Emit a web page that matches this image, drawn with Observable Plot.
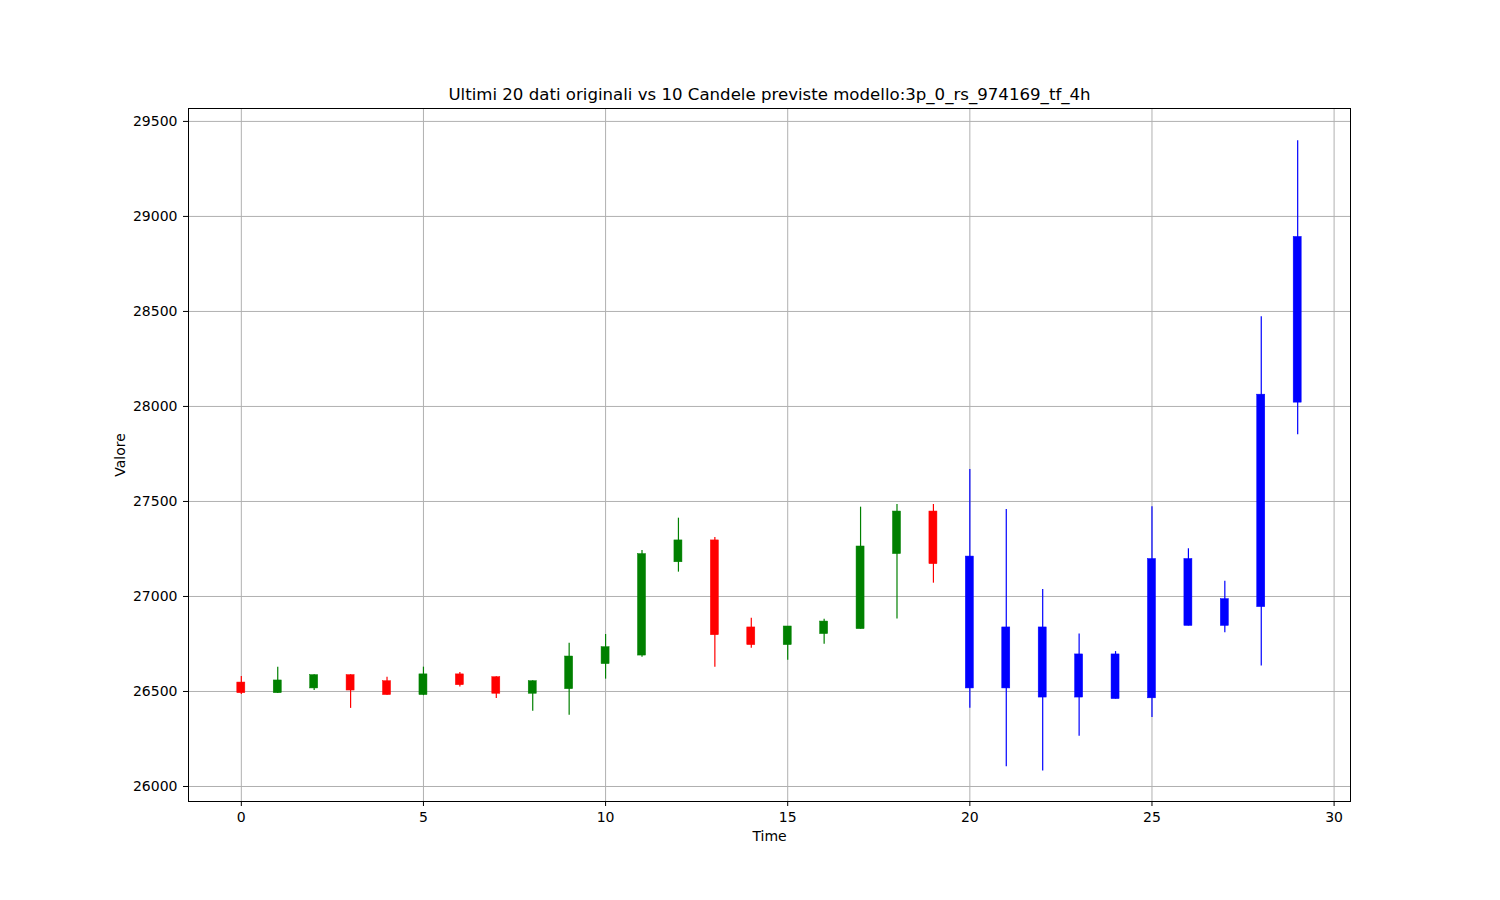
<!DOCTYPE html>
<html>
<head>
<meta charset="utf-8">
<script src="https://cdn.jsdelivr.net/npm/d3@7"></script>
<script src="https://cdn.jsdelivr.net/npm/@observablehq/plot@0.6"></script>
<style>
  html, body { margin: 0; padding: 0; background: #fff; }
  #chart { width: 1500px; height: 900px; }
  svg { font-family: "DejaVu Sans", sans-serif; }
</style>
</head>
<body>
<div id="chart"></div>
<script>
const title = "Ultimi 20 dati originali vs 10 Candele previste modello:3p_0_rs_974169_tf_4h";
const xLabel = "Time";
const yLabel = "Valore";

const time  = [0,1,2,3,4,5,6,7,8,9,10,11,12,13,14,15,16,17,18,19,20,21,22,23,24,25,26,27,28,29];
const open  = [26547,26491,26516,26586,26554,26481,26590,26575,26488,26512,26644,26689,27180,27295,26837,26744,26802,26828,27223,27447,
               27210,26837,26837,26695,26695,27197,27197,26986,28062,28892];
const high  = [26579,26628,26588,26588,26575,26628,26600,26577,26556,26754,26800,27242,27412,27310,26886,26842,26880,27470,27484,27484,
               27668,27458,27037,26802,26710,27472,27251,27080,28472,29398];
const low   = [26484,26490,26505,26411,26480,26478,26523,26463,26396,26375,26565,26680,27128,26628,26728,26665,26749,26828,26882,27070,
               26412,26104,26082,26265,26460,26363,26845,26809,26634,27851];
const close = [26491,26558,26586,26505,26481,26590,26533,26488,26554,26684,26733,27223,27295,26796,26744,26842,26868,27263,27447,27170,
               26516,26516,26468,26468,26460,26464,26845,26845,26944,28020];
const kind  = ["orig","orig","orig","orig","orig","orig","orig","orig","orig","orig","orig","orig","orig","orig","orig","orig","orig","orig","orig","orig",
               "pred","pred","pred","pred","pred","pred","pred","pred","pred","pred"];
const xTicks = [0,5,10,15,20,25,30];
const yTicks = [26000,26500,27000,27500,28000,28500,29000,29500];

const data = time.map((t, i) => ({
  t, open: open[i], high: high[i], low: low[i], close: close[i],
  color: kind[i] === "pred" ? "blue" : (close[i] >= open[i] ? "green" : "red")
}));

const halfW = 0.11;

const chart = Plot.plot({
  width: 1500,
  height: 900,
  marginLeft: 188,
  marginRight: 150,
  marginTop: 108,
  marginBottom: 99,
  style: { fontFamily: "DejaVu Sans, sans-serif", fontSize: "14px", background: "white", color: "black" },
  x: { domain: [-1.45, 30.45], ticks: xTicks },
  y: { domain: [25921, 29568], ticks: yTicks },
  marks: [
    Plot.gridX(xTicks, { stroke: "#b0b0b0", strokeOpacity: 1, strokeWidth: 1 }),
    Plot.gridY(yTicks, { stroke: "#b0b0b0", strokeOpacity: 1, strokeWidth: 1 }),
    Plot.ruleX(data, { x: "t", y1: "low", y2: "high", stroke: d => d.color, strokeWidth: 1.2 }),
    Plot.rectY(data, { x1: d => d.t - halfW, x2: d => d.t + halfW, y1: "open", y2: "close", fill: d => d.color, stroke: d => d.color, strokeWidth: 0.5 }),
    Plot.frame({ stroke: "black", strokeWidth: 1 }),
    Plot.axisX(xTicks, { tickSize: 5, tickPadding: 6, tickFormat: d3.format("d"), label: null, fontSize: 14 }),
    Plot.axisY(yTicks, { tickSize: 5, tickPadding: 6, tickFormat: d3.format("d"), label: null, fontSize: 14 }),
    Plot.text([title], { frameAnchor: "top", dy: -14, fontSize: 16.6, fill: "black", lineAnchor: "middle" }),
    Plot.text([xLabel], { frameAnchor: "bottom", dy: 35, fontSize: 14, fill: "black", lineAnchor: "middle", textAnchor: "middle" }),
    Plot.text([yLabel], { frameAnchor: "left", dx: -68, rotate: -90, fontSize: 14, fill: "black", lineAnchor: "middle", textAnchor: "middle" })
  ]
});
document.getElementById("chart").appendChild(chart);
</script>
</body>
</html>
